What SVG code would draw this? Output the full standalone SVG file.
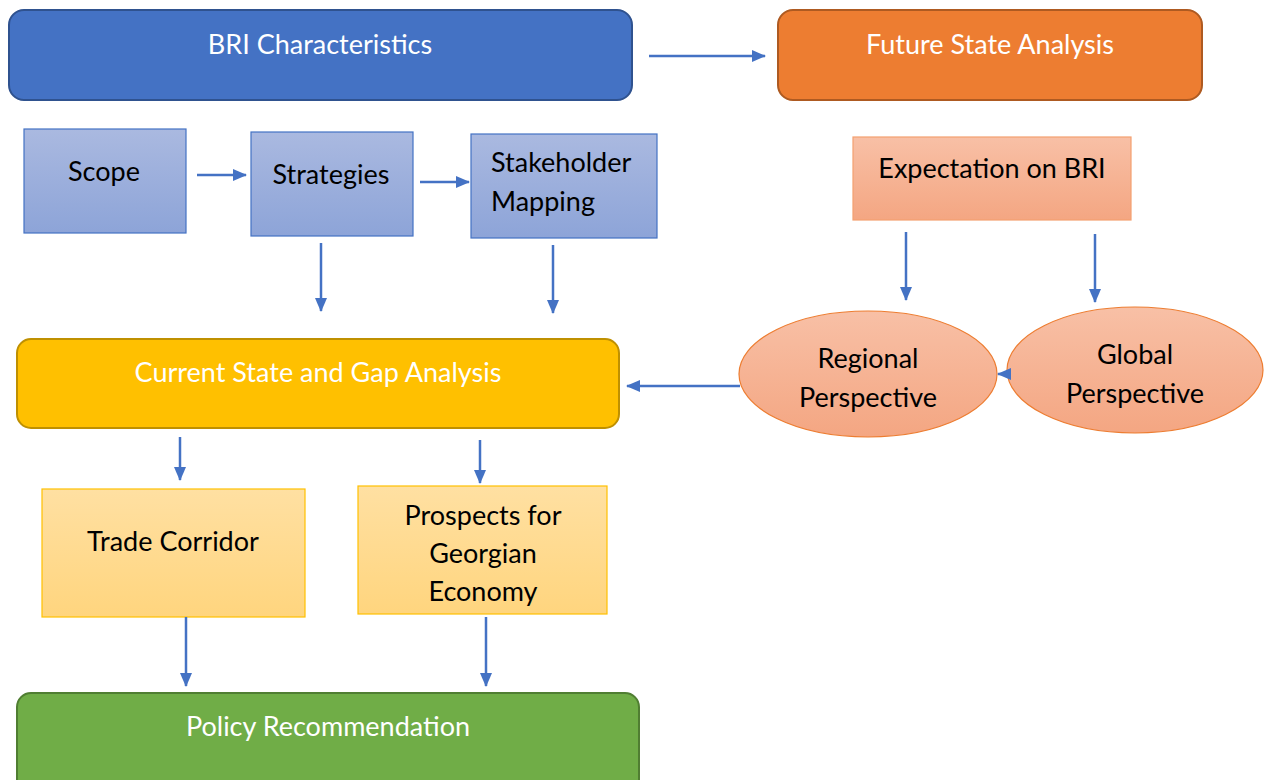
<svg xmlns="http://www.w3.org/2000/svg" width="1265" height="780" viewBox="0 0 1265 780">
<style>
.t{font-family:Lato,"Open Sans","Liberation Sans",sans-serif;font-size:27px}
.w{fill:#ffffff}
.k{fill:#000000}
.c{stroke:#4472C4;stroke-width:2.5;fill:none}
</style>
<defs>
<marker id="ah" markerUnits="userSpaceOnUse" markerWidth="14" markerHeight="12" refX="13" refY="6" orient="auto">
<path d="M0,0 L14,6 L0,12 Z" fill="#4472C4"/>
</marker>
<linearGradient id="gb" x1="0" y1="0" x2="0" y2="1"><stop offset="0" stop-color="#AAB9E0"/><stop offset="1" stop-color="#8DA4D8"/></linearGradient>
<linearGradient id="go" x1="0" y1="0" x2="0" y2="1"><stop offset="0" stop-color="#F8C0A6"/><stop offset="1" stop-color="#F4A682"/></linearGradient>
<linearGradient id="gy" x1="0" y1="0" x2="0" y2="1"><stop offset="0" stop-color="#FFE0A2"/><stop offset="1" stop-color="#FFD57E"/></linearGradient>
</defs>
<rect width="1265" height="780" fill="#ffffff"/>
<g id="bri"><rect x="9" y="10" width="623" height="90" rx="15" fill="#4472C4" stroke="#2F528F" stroke-width="2"/><text class="t w" x="320" y="54" text-anchor="middle">BRI Characteristics</text></g>
<g id="future"><rect x="778" y="10" width="424" height="90" rx="15" fill="#ED7D31" stroke="#AE5A21" stroke-width="2"/><text class="t w" x="990" y="54" text-anchor="middle">Future State Analysis</text></g>
<g id="scope"><rect x="24" y="129" width="162" height="104" fill="url(#gb)" stroke="#4472C4" stroke-width="1.2"/><text class="t k" x="104" y="181" text-anchor="middle">Scope</text></g>
<g id="strategies"><rect x="251" y="132" width="162" height="104" fill="url(#gb)" stroke="#4472C4" stroke-width="1.2"/><text class="t k" x="331" y="184" text-anchor="middle">Strategies</text></g>
<g id="stakeholder"><rect x="471" y="134" width="186" height="104" fill="url(#gb)" stroke="#4472C4" stroke-width="1.2"/><text class="t k" x="491" y="172">Stakeholder</text><text class="t k" x="491" y="211">Mapping</text></g>
<g id="expectation"><rect x="853" y="137" width="278" height="83" fill="url(#go)" stroke="#F4A070" stroke-width="1.2"/><text class="t k" x="992" y="178" text-anchor="middle">Expectation on BRI</text></g>
<g id="regional"><ellipse cx="868" cy="374" rx="129" ry="63" fill="url(#go)" stroke="#ED7D31" stroke-width="1.2"/><text class="t k" x="868" y="368" text-anchor="middle">Regional</text><text class="t k" x="868" y="407" text-anchor="middle">Perspective</text></g>
<g id="global"><ellipse cx="1135" cy="370" rx="128" ry="63" fill="url(#go)" stroke="#ED7D31" stroke-width="1.2"/><text class="t k" x="1135" y="364" text-anchor="middle">Global</text><text class="t k" x="1135" y="403" text-anchor="middle">Perspective</text></g>
<g id="current"><rect x="17" y="339" width="602" height="89" rx="14" fill="#FFC000" stroke="#BF9000" stroke-width="2"/><text class="t w" x="318" y="382" text-anchor="middle">Current State and Gap Analysis</text></g>
<g id="trade"><rect x="42" y="489" width="263" height="128" fill="url(#gy)" stroke="#FFC000" stroke-width="1.2"/><text class="t k" x="173" y="551" text-anchor="middle">Trade Corridor</text></g>
<g id="prospects"><rect x="358" y="486" width="249" height="128" fill="url(#gy)" stroke="#FFC000" stroke-width="1.2"/><text class="t k" x="483" y="525" text-anchor="middle">Prospects for</text><text class="t k" x="483" y="563" text-anchor="middle">Georgian</text><text class="t k" x="483" y="601" text-anchor="middle">Economy</text></g>
<g id="policy"><rect x="17" y="693" width="622" height="100" rx="14" fill="#70AD47" stroke="#507E32" stroke-width="2"/><text class="t w" x="328" y="736" text-anchor="middle">Policy Recommendation</text></g>
<g id="connectors">
<line class="c" x1="649" y1="56" x2="765" y2="56" marker-end="url(#ah)"/>
<line class="c" x1="197" y1="175" x2="246" y2="175" marker-end="url(#ah)"/>
<line class="c" x1="420" y1="182" x2="469" y2="182" marker-end="url(#ah)"/>
<line class="c" x1="321" y1="243" x2="321" y2="311" marker-end="url(#ah)"/>
<line class="c" x1="553" y1="245" x2="553" y2="313" marker-end="url(#ah)"/>
<line class="c" x1="906" y1="232" x2="906" y2="300" marker-end="url(#ah)"/>
<line class="c" x1="1095" y1="234" x2="1095" y2="302" marker-end="url(#ah)"/>
<line class="c" x1="1007" y1="374" x2="998" y2="374" marker-end="url(#ah)"/>
<line class="c" x1="740" y1="386" x2="627" y2="386" marker-end="url(#ah)"/>
<line class="c" x1="180" y1="437" x2="180" y2="480" marker-end="url(#ah)"/>
<line class="c" x1="480" y1="440" x2="480" y2="483" marker-end="url(#ah)"/>
<line class="c" x1="186" y1="617" x2="186" y2="686" marker-end="url(#ah)"/>
<line class="c" x1="486" y1="617" x2="486" y2="686" marker-end="url(#ah)"/>
</g>
</svg>
